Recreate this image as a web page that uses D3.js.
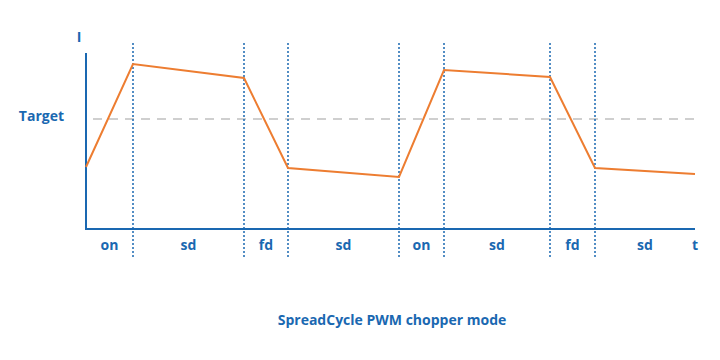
<!DOCTYPE html>
<html>
<head>
<meta charset="utf-8">
<script src="https://d3js.org/d3.v7.min.js"></script>
<style>
  body { margin: 0; background: #fff; }
  text { font-family: "Open Sans", sans-serif; font-weight: bold; fill: #1a68b1; }
</style>
</head>
<body>
<div id="chart"></div>
<script>
// phase boundaries (time units) and labels
var boundaries = [0, 47, 158, 202, 313, 358, 464, 509, 609];
var phases = ["on", "sd", "fd", "sd", "on", "sd", "fd", "sd"];
// coil current at each boundary
var current = [62, 165, 151, 61, 52, 159, 152, 61, 55];
var target = 110;
var title = "SpreadCycle PWM chopper mode";

var blue = "#1a68b1", orange = "#ed7d31";

var svg = d3.select("#chart").append("svg")
  .attr("width", 720).attr("height", 360);

var x = d3.scaleLinear().domain([0, 609]).range([86, 695]);
var y = d3.scaleLinear().domain([0, 176]).range([229, 53]);

// target line
svg.append("line")
  .attr("x1", x(7)).attr("x2", x(609))
  .attr("y1", y(target)).attr("y2", y(target))
  .attr("stroke", "#c0c0c0").attr("stroke-width", 1.5)
  .attr("stroke-dasharray", "9,7");

// phase dividers
svg.append("g").selectAll("line")
  .data(boundaries.slice(1, -1))
  .enter().append("line")
    .attr("x1", d => x(d)).attr("x2", d => x(d))
    .attr("y1", 43).attr("y2", 259)
    .attr("stroke", blue).attr("stroke-width", 1.5)
    .attr("stroke-dasharray", "2,2");

// axes
svg.append("line")
  .attr("x1", x(0)).attr("x2", x(0))
  .attr("y1", y(176)).attr("y2", y(0))
  .attr("stroke", blue).attr("stroke-width", 2);
svg.append("line")
  .attr("x1", x(0) - 1).attr("x2", x(609))
  .attr("y1", y(0)).attr("y2", y(0))
  .attr("stroke", blue).attr("stroke-width", 2);

// current waveform
var line = d3.line()
  .x((d, i) => x(boundaries[i]))
  .y(d => y(d));
svg.append("path")
  .datum(current)
  .attr("d", line)
  .attr("fill", "none")
  .attr("stroke", orange)
  .attr("stroke-width", 2);

// phase labels
svg.append("g").selectAll("text")
  .data(phases)
  .enter().append("text")
    .attr("x", (d, i) => x((boundaries[i] + boundaries[i + 1]) / 2))
    .attr("y", 250)
    .attr("text-anchor", "middle")
    .attr("font-size", 14)
    .text(d => d);

svg.append("text").attr("x", x(609)).attr("y", 250)
  .attr("text-anchor", "middle").attr("font-size", 14).text("t");
svg.append("text").attr("x", 79).attr("y", 42)
  .attr("text-anchor", "middle").attr("font-size", 14).text("I");
svg.append("text").attr("x", 64).attr("y", 121)
  .attr("text-anchor", "end").attr("font-size", 14).text("Target");

svg.append("text").attr("x", 392).attr("y", 325)
  .attr("text-anchor", "middle").attr("font-size", 14).text(title);
</script>
</body>
</html>
